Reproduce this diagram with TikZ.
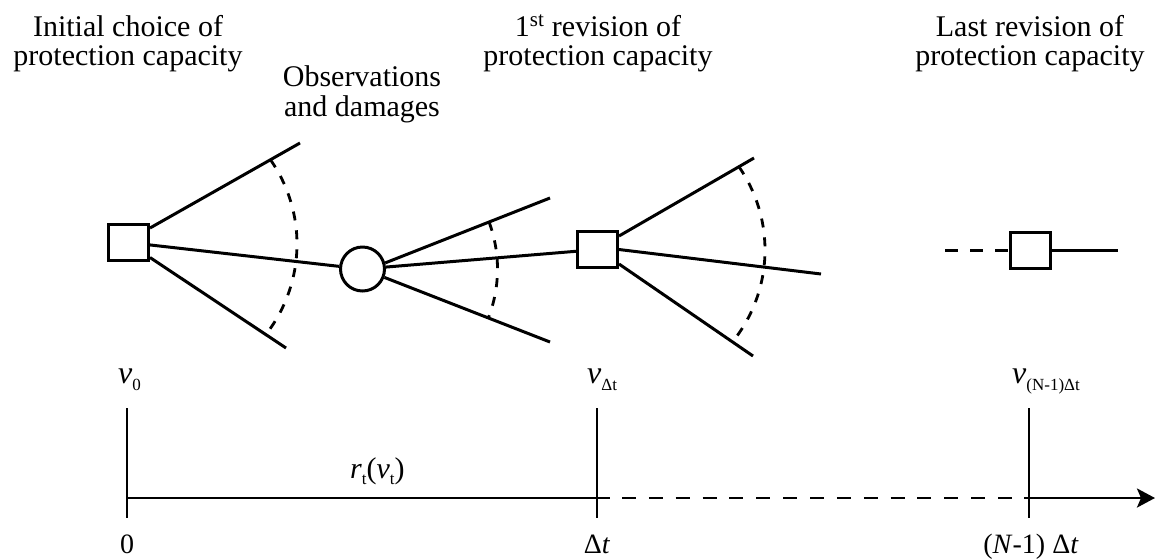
\documentclass[tikz,border=0pt]{standalone}
\usepackage{fontspec}
\setmainfont{Liberation Serif}
\usetikzlibrary{arrows.meta}
\newcommand{\lowsub}[1]{\raisebox{-7pt}{\fontsize{17}{17}\selectfont #1}}
\newcommand{\rsub}[1]{\raisebox{-6pt}{\fontsize{17}{17}\selectfont #1}}
\begin{document}
\begin{tikzpicture}[x=1pt,y=-1pt,
  ttl/.style={font=\fontsize{30}{30}\selectfont,inner sep=0pt,anchor=base},
  vlab/.style={font=\fontsize{32}{32}\selectfont,inner sep=0pt,anchor=base west},
  blab/.style={font=\fontsize{28}{28}\selectfont,inner sep=0pt,anchor=base},
  rlab/.style={font=\fontsize{30}{30}\selectfont,inner sep=0pt,anchor=base west},
  sq/.style={draw,line width=3pt,minimum width=40pt,minimum height=36pt,inner sep=0pt},
  chance/.style={draw,circle,line width=3pt,minimum size=44pt,inner sep=0pt},
  branch/.style={line width=3pt},
  sweep/.style={line width=2.8pt,dash pattern=on 9pt off 10pt},
  tickline/.style={line width=1.3pt},
  axisline/.style={line width=2.8pt},
]
\useasboundingbox (0,0) rectangle (1156,558);

% titles
\node[ttl] (t1a) at (128,36) {Initial choice of};
\node[ttl] (t1b) at (128,65) {protection capacity};
\node[ttl] (t2a) at (362,86) {Observations};
\node[ttl] (t2b) at (362,116) {and damages};
\node[ttl] (t3a) at (598,36) {1\textsuperscript{st} revision of};
\node[ttl] (t3b) at (598,65) {protection capacity};
\node[ttl] (t4a) at (1030,36) {Last revision of};
\node[ttl] (t4b) at (1030,65) {protection capacity};

% decision / chance nodes
\node[sq] (d1) at (128.5,242.5) {};
\node[chance] (c1) at (362.5,269) {};
\node[sq] (d2) at (597.5,249.5) {};
\node[sq] (d3) at (1030,250) {};

% free ends of branches
\coordinate (e1u) at (300,143);
\coordinate (e1l) at (286,348);
\coordinate (e2u) at (550,198);
\coordinate (e2l) at (550,342);
\coordinate (e3u) at (754,158);
\coordinate (e3m) at (821,274);
\coordinate (e3l) at (753,356);
\coordinate (e4l) at (945,250);
\coordinate (e4r) at (1118,250);

% branches
\draw[branch] ([yshift=14.5pt]d1.east) -- (e1u);
\draw[branch] (d1) -- (c1);
\draw[branch] ([yshift=-15pt]d1.east) -- (e1l);
\draw[branch] (c1.15) -- (e2u);
\draw[branch] (c1) -- (d2);
\draw[branch] (c1.-21) -- (e2l);
\draw[branch] ([yshift=13.5pt]d2.east) -- (e3u);
\draw[branch] (d2.east) -- (e3m);
\draw[branch] ([yshift=-14.5pt]d2.east) -- (e3l);
\draw[branch,dash pattern=on 13pt off 12pt] (e4l) -- (d3.west);
\draw[branch] (d3.east) -- (e4r);

% dashed sweeps
\draw[sweep] plot[domain=-34.97:38.0,samples=60,variable=\a] ({150+147*cos(\a)},{244+147*sin(\a)});
\draw[sweep] plot[domain=-20.3:21.4,samples=60,variable=\a] ({362.5+135*cos(\a)},{269+135*sin(\a)});
\draw[sweep] plot[domain=-34.8:39.0,samples=60,variable=\a] ({619+146*cos(\a)},{250+146*sin(\a)});

% time axis
\coordinate (a0) at (127,498);
\coordinate (a1) at (597,498);
\coordinate (a2) at (1029,498);
\coordinate (aend) at (1155,498);
\coordinate (k0t) at (127,408);
\coordinate (k0b) at (127,518);
\coordinate (k1t) at (597,408);
\coordinate (k1b) at (597,518);
\coordinate (k2t) at (1029,408);
\coordinate (k2b) at (1029,518);

\draw[tickline] (k0t) -- (k0b);
\draw[tickline] (k1t) -- (k1b);
\draw[tickline] (k2t) -- (k2b);
\draw[axisline] (a0) -- ([xshift=13pt]a1);
\draw[axisline,dash pattern=on 14pt off 12.86pt] ([xshift=25pt]a1) -- ([xshift=-17pt]a2);
\draw[axisline,-{Stealth[length=18pt,width=19pt,inset=4pt]}] ([xshift=-5pt]a2) -- (aend);

% labels
\node[vlab] (lv0) at (118,383) {\textit{v}\lowsub{0}};
\node[vlab] (lv1) at (587,383) {\textit{v}\lowsub{Δt}};
\node[vlab] (lv2) at (1012,383) {\textit{v}\lowsub{(N-1)Δt}};
\node[rlab] (lr) at (350,478) {\textit{r}\rsub{t}(\textit{v}\rsub{t})};
\node[blab] (l0) at (127,553) {0};
\node[blab] (l1) at (597,553) {Δ\textit{t}};
\node[blab] (l2) at (1031,553) {(\textit{N}-1) Δ\textit{t}};
\end{tikzpicture}
\end{document}
